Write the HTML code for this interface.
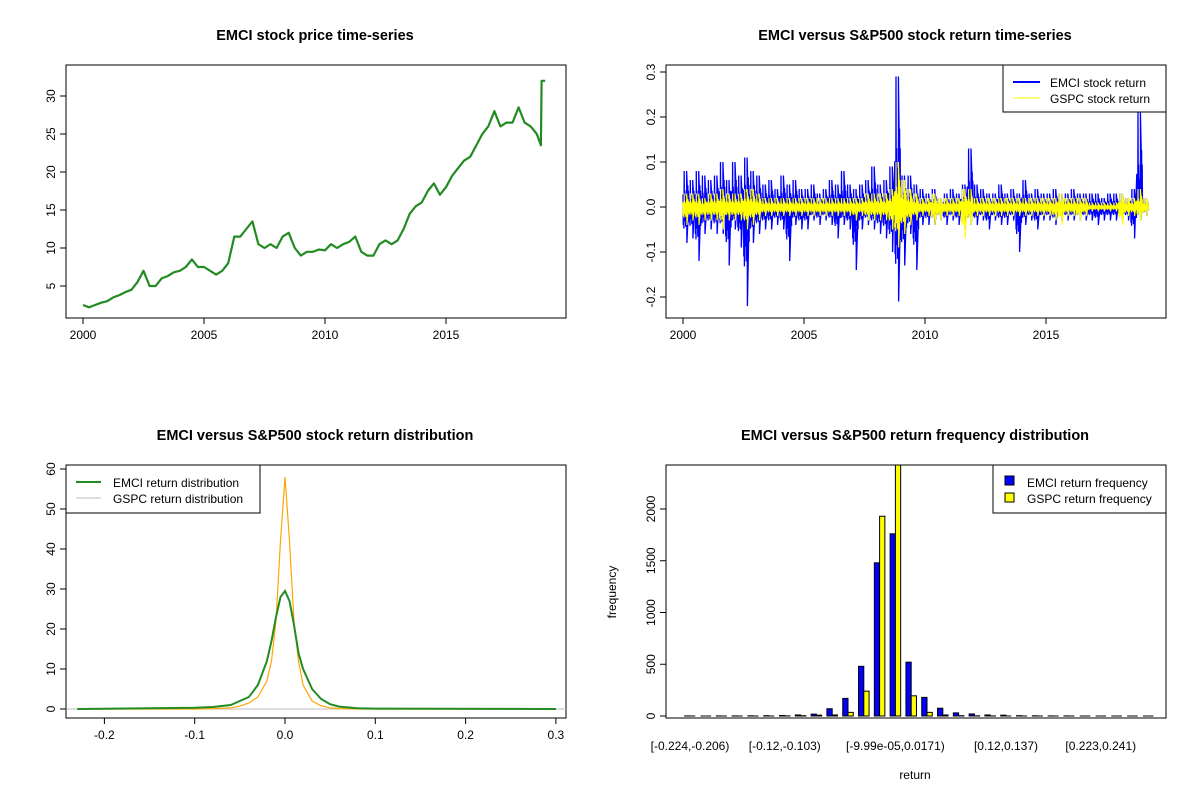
<!DOCTYPE html>
<html><head><meta charset="utf-8">
<style>
html,body{margin:0;padding:0;background:#fff;}
svg{display:block;font-family:"Liberation Sans",Arial,sans-serif;}
.t{font-weight:bold;font-size:14.5px;text-anchor:middle;}
.tk{font-size:12px;}
</style></head><body>
<svg id="s" width="1200" height="800" viewBox="0 0 1200 800">
<rect width="1200" height="800" fill="#fff"/>
<text class="t" x="315" y="40">EMCI stock price time-series</text>
<text class="t" x="915" y="40">EMCI versus S&amp;P500 stock return time-series</text>
<text class="t" x="315" y="440">EMCI versus S&amp;P500 stock return distribution</text>
<text class="t" x="915" y="440">EMCI versus S&amp;P500 return frequency distribution</text>
<g id="p1"></g>
<g id="p2"></g>
<g id="p3"></g>
<g id="p4"></g>
</svg>
<script>
// ---- data ----
const priceYears = [2000,2000.25,2000.5,2000.75,2001,2001.25,2001.5,2001.75,2002,2002.25,2002.5,2002.75,2003,2003.25,2003.5,2003.75,2004,2004.25,2004.5,2004.75,2005,2005.25,2005.5,2005.75,2006,2006.25,2006.5,2006.75,2007,2007.25,2007.5,2007.75,2008,2008.25,2008.5,2008.75,2009,2009.25,2009.5,2009.75,2010,2010.25,2010.5,2010.75,2011,2011.25,2011.5,2011.75,2012,2012.25,2012.5,2012.75,2013,2013.25,2013.5,2013.75,2014,2014.25,2014.5,2014.75,2015,2015.25,2015.5,2015.75,2016,2016.25,2016.5,2016.75,2017,2017.25,2017.5,2017.75,2018,2018.25,2018.5,2018.75,2018.92,2018.95,2019.1];
const priceValues = [2.5,2.2,2.5,2.8,3.0,3.5,3.8,4.2,4.5,5.5,7.0,5.0,5.0,6.0,6.3,6.8,7.0,7.5,8.5,7.5,7.5,7.0,6.5,7.0,8.0,11.5,11.5,12.5,13.5,10.5,10.0,10.5,10.0,11.5,12.0,10.0,9.0,9.5,9.5,9.8,9.7,10.5,10.0,10.5,10.8,11.5,9.5,9.0,9.0,10.5,11.0,10.5,11.0,12.5,14.5,15.5,16.0,17.5,18.5,17.0,18.0,19.5,20.5,21.5,22.0,23.5,25.0,26.0,28.0,26.0,26.5,26.5,28.5,26.5,26.0,25.0,23.5,32.0,32.0];
const priceTicks = [5,10,15,20,25,30];
const yearTicks = [2000,2005,2010,2015];

const retYears = [];
for (let i=0;i<77;i++) retYears.push(2000+i*0.25);
const emciHi = [.08,.06,.08,.07,.06,.07,.10,.06,.10,.07,.11,.08,.07,.05,.06,.04,.07,.05,.06,.04,.04,.05,.03,.04,.06,.05,.08,.05,.04,.05,.06,.09,.05,.06,.09,.29,.07,.07,.05,.04,.03,.04,.02,.03,.04,.03,.05,.13,.05,.04,.03,.03,.05,.03,.04,.03,.06,.03,.04,.03,.03,.04,.03,.03,.04,.03,.03,.03,.03,.02,.03,.03,.03,.02,.04,.21,.02];
const emciLo = [-.08,-.07,-.12,-.06,-.05,-.06,-.06,-.13,-.05,-.09,-.22,-.08,-.06,-.05,-.05,-.04,-.05,-.12,-.04,-.05,-.05,-.03,-.04,-.03,-.04,-.07,-.04,-.05,-.14,-.05,-.04,-.05,-.06,-.07,-.10,-.21,-.13,-.06,-.14,-.04,-.04,-.04,-.03,-.04,-.03,-.04,-.05,-.04,-.04,-.03,-.05,-.03,-.04,-.04,-.03,-.10,-.04,-.03,-.05,-.03,-.03,-.04,-.03,-.03,-.03,-.03,-.03,-.03,-.04,-.03,-.03,-.03,-.03,-.03,-.07,-.03,-.02];
const gspcHi = [.03,.03,.03,.02,.03,.03,.04,.03,.03,.03,.04,.04,.03,.02,.02,.02,.02,.02,.02,.02,.02,.02,.02,.02,.02,.02,.02,.02,.02,.02,.03,.03,.03,.03,.04,.10,.06,.04,.03,.02,.02,.03,.02,.02,.02,.02,.04,.04,.02,.02,.02,.02,.02,.02,.02,.02,.02,.02,.02,.02,.02,.02,.03,.02,.02,.02,.02,.01,.01,.01,.01,.01,.03,.02,.02,.04,.02];
const gspcLo = [-.04,-.03,-.04,-.03,-.03,-.03,-.05,-.03,-.03,-.03,-.05,-.04,-.03,-.02,-.02,-.02,-.02,-.02,-.02,-.02,-.02,-.02,-.02,-.02,-.02,-.02,-.02,-.02,-.03,-.02,-.03,-.03,-.03,-.03,-.05,-.09,-.06,-.04,-.03,-.02,-.02,-.04,-.03,-.02,-.02,-.02,-.07,-.04,-.02,-.02,-.02,-.02,-.02,-.02,-.02,-.02,-.02,-.02,-.02,-.02,-.02,-.03,-.04,-.02,-.02,-.03,-.02,-.01,-.01,-.01,-.01,-.01,-.04,-.02,-.02,-.03,-.02];
const retTicks = [-0.2,-0.1,0.0,0.1,0.2,0.3];

const densX = [-0.23,-0.1,-0.08,-0.06,-0.05,-0.04,-0.03,-0.02,-0.015,-0.01,-0.005,0,0.005,0.01,0.015,0.02,0.03,0.04,0.05,0.06,0.08,0.1,0.3];
const densEMCI = [0,0.3,0.5,1,2,3,6,12,17,23,28,29.5,27,21,14,10,5,2.5,1.2,0.6,0.2,0.1,0];
const densGSPC = [0,0,0.1,0.3,0.7,1.5,3,7,12,22,42,58,42,22,12,6,2,0.8,0.3,0.1,0,0,0];
const densXTicks = [-0.2,-0.1,0.0,0.1,0.2,0.3];
const densYTicks = [0,10,20,30,40,50,60];

const binLabels = ["[-0.224,-0.206)","","","","","","[-0.12,-0.103)","","","","","","","[-9.99e-05,0.0171)","","","","","","","[0.12,0.137)","","","","","","[0.223,0.241)","","",""];
const freqEMCI = [1,0,1,1,2,3,5,10,18,70,170,480,1480,1760,520,180,75,30,20,10,8,3,2,1,1,0,0,0,0,0];
const freqGSPC = [0,0,0,0,0,0,1,3,8,10,35,240,1930,2600,195,35,10,3,2,1,0,0,0,0,0,0,0,0,0,0];
const freqTicks = [0,500,1000,1500,2000];

// ---- helpers ----
const NS="http://www.w3.org/2000/svg";
function mk(parent,tag,attrs,name,text){const e=document.createElementNS(NS,tag);for(const k in attrs)e.setAttribute(k,attrs[k]);


if(text!==undefined)e.textContent=text;parent.appendChild(e);return e;}
function box(g,x0,y0,x1,y1){mk(g,'rect',{x:x0,y:y0,width:x1-x0,height:y1-y0,fill:'none',stroke:'#000','stroke-width':1},'plot-frame');}
function xAxis(g,ticks,sx,y,fmt){mk(g,'line',{x1:sx(ticks[0]),x2:sx(ticks[ticks.length-1]),y1:y,y2:y,stroke:'#000'},'x-axis-line');
ticks.forEach(t=>{mk(g,'line',{x1:sx(t),x2:sx(t),y1:y,y2:y+6,stroke:'#000'},'x-tick');
mk(g,'text',{x:sx(t),y:y+21,'text-anchor':'middle',class:'tk'},'x-tick-label',fmt?fmt(t):t);});}
function yAxis(g,ticks,sy,x,fmt){mk(g,'line',{x1:x,x2:x,y1:sy(ticks[0]),y2:sy(ticks[ticks.length-1]),stroke:'#000'},'y-axis-line');
ticks.forEach(t=>{mk(g,'line',{x1:x-6,x2:x,y1:sy(t),y2:sy(t),stroke:'#000'},'y-tick');
mk(g,'text',{x:x-11,y:sy(t),'text-anchor':'middle',class:'tk',transform:`rotate(-90 ${x-11} ${sy(t)})`},'y-tick-label',fmt?fmt(t):t);});}

// ---- panel 1: price ----
{const g=document.getElementById('p1');
const sx=v=>83+(v-2000)*24.2, sy=v=>286-(v-5)*7.6;
box(g,66,65,566,318);
xAxis(g,yearTicks,sx,318);yAxis(g,priceTicks,sy,66);
let d=priceYears.map((y,i)=>(i?'L':'M')+sx(y).toFixed(1)+','+sy(priceValues[i]).toFixed(1)).join('');
mk(g,'path',{d:d,fill:'none',stroke:'#228b22','stroke-width':2.2,'stroke-linejoin':'round'},'emci-price-line');}

// ---- panel 2: returns ----
{const g=document.getElementById('p2');
const sx=v=>683+(v-2000)*24.2, sy=v=>207-v*450;
const pat=[0.35,0.5,0.25,0.6,1,0.3,0.45,0.4,0.2,0.55,0.3,0.35,0.5,0.25,0.4,0.3,0.6,0.2,0.45,0.35];
function band(hi,lo,color,name,w){let d='';retYears.forEach((y,i)=>{for(let k=0;k<pat.length;k++){const x=sx(y+k*0.25/pat.length);
const v=(k%2?lo[i]:hi[i])*pat[k];d+=(d?'L':'M')+x.toFixed(1)+','+sy(v).toFixed(1);}
d+='L'+sx(y+0.15).toFixed(1)+','+sy(hi[i]).toFixed(1)+'L'+sx(y+0.16).toFixed(1)+','+sy(lo[i]).toFixed(1);});
mk(g,'path',{d:d,fill:'none',stroke:color,'stroke-width':w},name);}
band(emciHi,emciLo,'#0000ff','emci-return-line',1.3);
band(gspcHi,gspcLo,'#ffff00','gspc-return-line',1.1);
box(g,666,65,1166,318);
xAxis(g,yearTicks,sx,318);yAxis(g,retTicks,sy,666,t=>t.toFixed(1));
const lg=mk(g,'g',{},'return-legend');
mk(lg,'rect',{x:1003,y:65,width:163,height:47,fill:'#fff',stroke:'#000'},'legend-box');
mk(lg,'line',{x1:1013,x2:1040,y1:82,y2:82,stroke:'#0000ff','stroke-width':2},'legend-emci-swatch');
mk(lg,'text',{x:1050,y:87,class:'tk'},'legend-emci-label','EMCI stock return');
mk(lg,'line',{x1:1013,x2:1040,y1:98,y2:98,stroke:'#ffff00','stroke-width':1},'legend-gspc-swatch');
mk(lg,'text',{x:1050,y:103,class:'tk'},'legend-gspc-label','GSPC stock return');}

// ---- panel 3: density ----
{const g=document.getElementById('p3');
const sx=v=>285+v*903, sy=v=>709-v*4;
box(g,66,465,566,718);
mk(g,'line',{x1:66,x2:566,y1:sy(0),y2:sy(0),stroke:'#bebebe'},'zero-baseline');
xAxis(g,densXTicks,sx,718,t=>t.toFixed(1));yAxis(g,densYTicks,sy,66);
const dp=(ys)=>densX.map((x,i)=>(i?'L':'M')+sx(x).toFixed(1)+','+sy(ys[i]).toFixed(1)).join('');
mk(g,'path',{d:dp(densGSPC),fill:'none',stroke:'#ffa500','stroke-width':1.2},'gspc-density-line');
mk(g,'path',{d:dp(densEMCI),fill:'none',stroke:'#228b22','stroke-width':2},'emci-density-line');
const lg=mk(g,'g',{},'density-legend');
mk(lg,'rect',{x:66,y:465,width:194,height:48,fill:'#fff',stroke:'#000'},'legend-box');
mk(lg,'line',{x1:76,x2:101,y1:482,y2:482,stroke:'#228b22','stroke-width':2},'legend-emci-swatch');
mk(lg,'text',{x:113,y:487,class:'tk'},'legend-emci-label','EMCI return distribution');
mk(lg,'line',{x1:76,x2:101,y1:498,y2:498,stroke:'#bebebe','stroke-width':1},'legend-gspc-swatch');
mk(lg,'text',{x:113,y:503,class:'tk'},'legend-gspc-label','GSPC return distribution');}

// ---- panel 4: histogram ----
{const g=document.getElementById('p4');
const gw=15.8, bw=gw/3;
const cx=i=>690+i*gw, sy=v=>716-v*0.1035;
const cp=mk(g,'clipPath',{id:'c4'},'clip');
mk(cp,'rect',{x:666,y:465,width:500,height:253},'clip-rect');
const bars=mk(g,'g',{'clip-path':'url(#c4)'},'bars');
binLabels.forEach((l,i)=>{
if(freqEMCI[i]>0)mk(bars,'rect',{x:cx(i)-bw,y:sy(freqEMCI[i]),width:bw,height:freqEMCI[i]*0.1035,fill:'#0000ff',stroke:'#000'},'bar-emci');
else mk(bars,'line',{x1:cx(i)-bw,x2:cx(i),y1:sy(0),y2:sy(0),stroke:'#000'},'bar-emci');
if(freqGSPC[i]>0)mk(bars,'rect',{x:cx(i),y:sy(freqGSPC[i]),width:bw,height:freqGSPC[i]*0.1035,fill:'#ffff00',stroke:'#000'},'bar-gspc');
else mk(bars,'line',{x1:cx(i),x2:cx(i)+bw,y1:sy(0),y2:sy(0),stroke:'#000'},'bar-gspc');
if(l)mk(g,'text',{x:cx(i),y:750,'text-anchor':'middle',class:'tk'},'x-tick-label',l);});
box(g,666,465,1166,718);
yAxis(g,freqTicks,sy,666);
mk(g,'text',{x:915,y:779,'text-anchor':'middle',class:'tk'},'x-axis-title','return');
mk(g,'text',{x:616,y:592,'text-anchor':'middle',class:'tk',transform:'rotate(-90 616 592)'},'y-axis-title','frequency');
const lg=mk(g,'g',{},'frequency-legend');
mk(lg,'rect',{x:993,y:465,width:173,height:48,fill:'#fff',stroke:'#000'},'legend-box');
mk(lg,'rect',{x:1005,y:476,width:9,height:9,fill:'#0000ff',stroke:'#000'},'legend-emci-swatch');
mk(lg,'text',{x:1027,y:487,class:'tk'},'legend-emci-label','EMCI return frequency');
mk(lg,'rect',{x:1005,y:493,width:9,height:9,fill:'#ffff00',stroke:'#000'},'legend-gspc-swatch');
mk(lg,'text',{x:1027,y:503,class:'tk'},'legend-gspc-label','GSPC return frequency');}
</script>
</body></html>
